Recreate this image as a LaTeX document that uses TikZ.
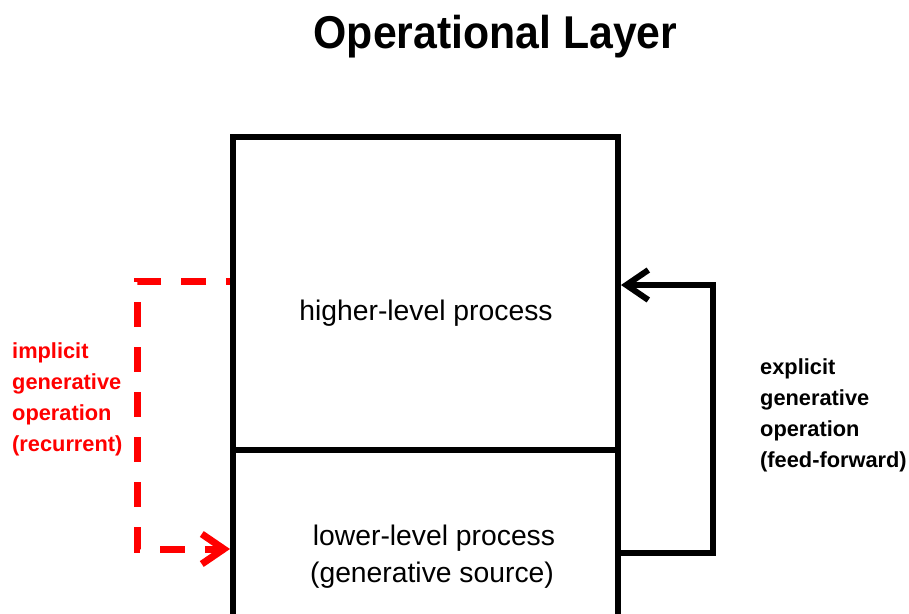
\documentclass[tikz,border=0pt]{standalone}
\usepackage{fontspec}
\usepackage{graphicx}
\setmainfont{Liberation Sans}
\usetikzlibrary{arrows.meta}
\begin{document}
\begin{tikzpicture}[x=1pt,y=-1pt,
  boxline/.style={draw=black,line width=6pt,inner sep=0pt,minimum width=385pt},
  proc/.style={font=\fontsize{28.3}{34}\selectfont,inner sep=0pt,anchor=base},
  sidetext/.style={font=\bfseries\fontsize{21.8}{31.2}\selectfont,inner sep=0pt,anchor=north west,align=left},
  redline/.style={draw=red,line width=7pt,dash pattern=on 25pt off 20pt,dash phase=21pt,
    -{Straight Barb[length=22pt,width=30pt]}},
  blackline/.style={draw=black,line width=6pt,-{Straight Barb[length=22pt,width=30pt]}}]
\useasboundingbox (0,0) rectangle (909,613);
% title
\node[font=\bfseries\fontsize{46}{50}\selectfont,inner sep=0pt,anchor=base] (title) at (495.5,48) {\scalebox{0.93}[1]{Operational Layer}};
% boxes
\node[boxline,minimum height=313pt] (upper) at (425.5,293.5) {};
\node[boxline,minimum height=200pt] (lower) at (425.5,550) {};
% texts
\node[proc] (hi) at (426,320) {higher-level process};
\node[proc] (lo) at (434,545) {lower-level process};
\node[proc] (src) at (432,582) {(generative source)};
\node[sidetext,text=red] (impl) at (12,342) {implicit\\generative\\operation\\(recurrent)};
\node[sidetext,text=black] (expl) at (760,358) {explicit\\generative\\operation\\(feed-forward)};
% connectors
\coordinate (rs) at (upper.west |- 0,281);
\coordinate (rc) at (137,415);
\coordinate (re) at (lower.west |- 0,549);
\draw[redline] (rs) -| (rc) |- (re);
\coordinate (bs) at (lower.east |- 0,553);
\coordinate (bc) at (713,415);
\coordinate (be) at (upper.east |- 0,285);
\draw[blackline] (bs) -| (bc) |- (be);
\end{tikzpicture}
\end{document}
